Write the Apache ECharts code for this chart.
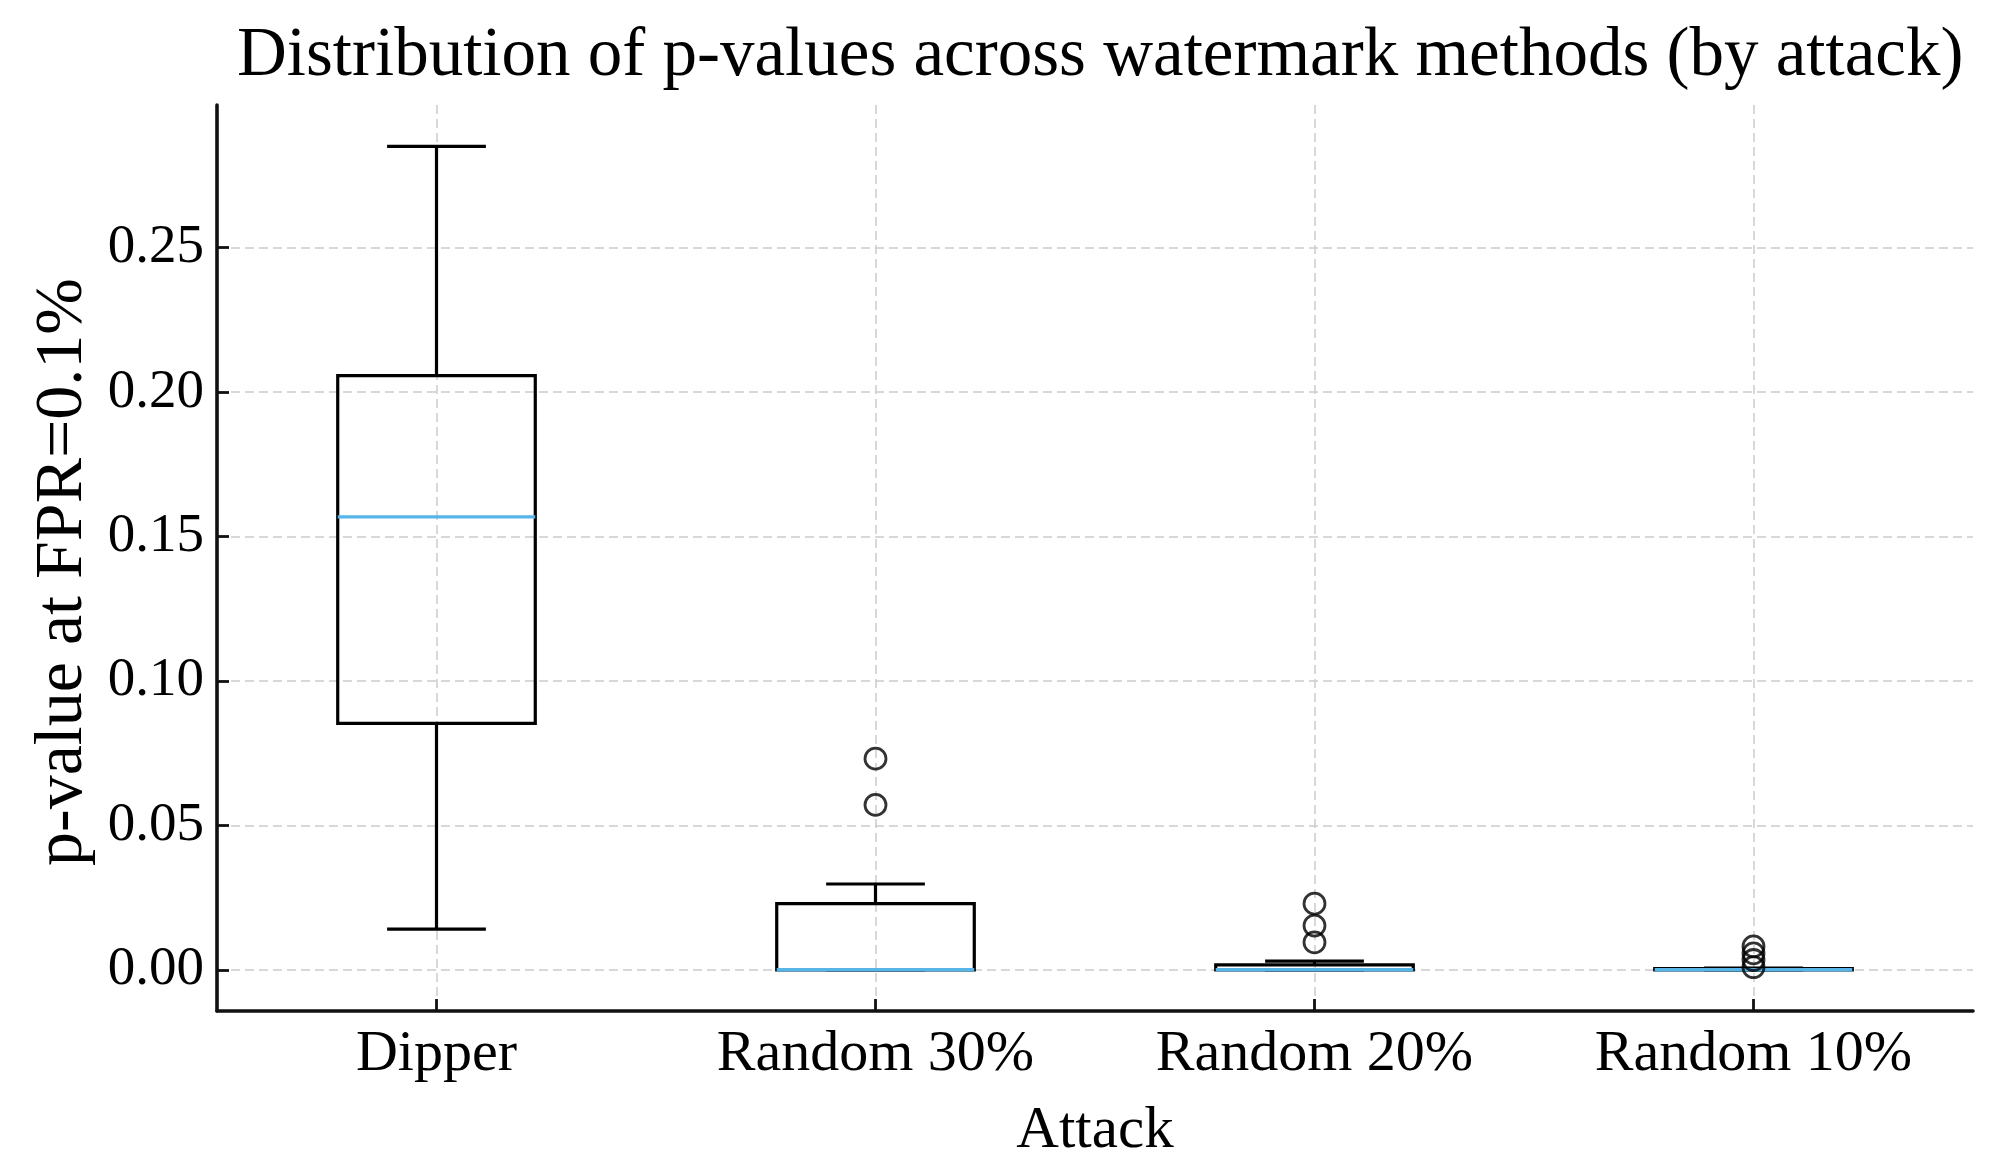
<!DOCTYPE html>
<html>
<head>
<meta charset="utf-8">
<script src="https://cdn.jsdelivr.net/npm/echarts@6/dist/echarts.min.js"></script>
<style>
html,body{margin:0;padding:0;background:#fff;}
#chart{width:1995px;height:1175px;}
</style>
</head>
<body>
<div id="chart"></div>
<script>
// ---- data ----
const categories = ['Dipper', 'Random 30%', 'Random 20%', 'Random 10%'];
const whiskerLow  = [0.0141, 0.0000, 0.0000, 0.0000];
const q1          = [0.0853, 0.0000, 0.0000, 0.0000];
const median      = [0.1568, 0.0000, 0.0000, 0.0000];
const q3          = [0.2057, 0.0229, 0.0017, 0.0004];
const whiskerHigh = [0.2851, 0.0297, 0.0030, 0.0006];
const outliers = [
  [],
  [0.0731, 0.0571],
  [0.0229, 0.0153, 0.0095],
  [0.0081, 0.0057, 0.0034, 0.0009]
];
const yTicks = [0.00, 0.05, 0.10, 0.15, 0.20, 0.25];
const yMin = -0.01426, yMax = 0.2994;

// ---- styles ----
const FONT = '"Liberation Serif", "Times New Roman", serif';
const BOX_FRAC = 0.45;
const LINE_W = 3.2;
const MEDIAN_COLOR = '#56B4E9';
const GRID_STYLE = {color: '#cccccc', width: 1.5, type: [9, 5]};

const boxData = categories.map((c, i) => [i, whiskerLow[i], q1[i], median[i], q3[i], whiskerHigh[i]]);
const outlierData = [];
outliers.forEach((arr, i) => arr.forEach(v => outlierData.push([i, v])));

const chart = echarts.init(document.getElementById('chart'), null, {renderer: 'canvas'});

function renderBox(params, api) {
  const x = api.value(0);
  const lo = api.value(1), b1 = api.value(2), md = api.value(3), b3 = api.value(4), hi = api.value(5);
  const band = api.size([1, 0])[0];
  const half = band * BOX_FRAC / 2;
  const capHalf = half / 2;
  const pLo = api.coord([x, lo]);
  const p1 = api.coord([x, b1]);
  const pm = api.coord([x, md]);
  const p3 = api.coord([x, b3]);
  const pHi = api.coord([x, hi]);
  const cx = pLo[0];
  const black = {stroke: '#000', lineWidth: LINE_W, fill: null};
  return {
    type: 'group',
    children: [
      {type: 'line', shape: {x1: cx, y1: p1[1], x2: cx, y2: pLo[1]}, style: black},
      {type: 'line', shape: {x1: cx - capHalf, y1: pLo[1], x2: cx + capHalf, y2: pLo[1]}, style: black},
      {type: 'line', shape: {x1: cx, y1: p3[1], x2: cx, y2: pHi[1]}, style: black},
      {type: 'line', shape: {x1: cx - capHalf, y1: pHi[1], x2: cx + capHalf, y2: pHi[1]}, style: black},
      {type: 'rect', shape: {x: cx - half, y: p3[1], width: 2 * half, height: p1[1] - p3[1]}, style: {stroke: '#000', lineWidth: LINE_W, fill: 'none'}},
      {type: 'line', shape: {x1: cx - half, y1: pm[1], x2: cx + half, y2: pm[1]}, style: {stroke: MEDIAN_COLOR, lineWidth: 3.4}}
    ]
  };
}

const option = {
  backgroundColor: '#ffffff',
  animation: false,
  title: {
    text: 'Distribution of p-values across watermark methods (by attack)',
    left: 237,
    top: 22,
    padding: 0,
    textStyle: {fontFamily: FONT, fontSize: 69, fontWeight: 'normal', color: '#000'}
  },
  grid: {left: 217, right: 22, top: 105, bottom: 164, containLabel: false},
  xAxis: {
    type: 'category',
    data: categories,
    boundaryGap: true,
    name: 'Attack',
    nameLocation: 'middle',
    nameGap: 91,
    nameTextStyle: {fontFamily: FONT, fontSize: 59, color: '#000'},
    axisLine: {show: true, onZero: false, lineStyle: {color: '#111', width: 3.6}},
    axisTick: {show: true, inside: true, alignWithLabel: true, length: 12, lineStyle: {color: '#111', width: 2.8}},
    axisLabel: {fontFamily: FONT, fontSize: 58, color: '#000', margin: 15},
    splitLine: {show: true, alignWithLabel: true, lineStyle: GRID_STYLE}
  },
  yAxis: {
    type: 'value',
    min: yMin,
    max: yMax,
    name: 'p-value at FPR=0.1%',
    nameLocation: 'middle',
    nameGap: 119,
    nameRotate: 90,
    nameTextStyle: {fontFamily: FONT, fontSize: 68, color: '#000', padding: [0, 28, 0, 0]},
    axisLine: {show: true, onZero: false, lineStyle: {color: '#111', width: 3.6}},
    axisTick: {show: true, inside: true, length: 12, customValues: yTicks, lineStyle: {color: '#111', width: 2.8}},
    axisLabel: {fontFamily: FONT, fontSize: 55, color: '#000', margin: 13, customValues: yTicks,
      formatter: v => Number(v).toFixed(2)},
    splitLine: {show: true, lineStyle: GRID_STYLE}
  },
  series: [
    {
      type: 'custom',
      name: 'box',
      renderItem: renderBox,
      encode: {x: 0, y: [1, 2, 3, 4, 5]},
      data: boxData,
      z: 3
    },
    {
      type: 'scatter',
      name: 'outliers',
      data: outlierData,
      symbol: 'circle',
      symbolSize: 21,
      itemStyle: {color: 'rgba(0,0,0,0)', borderColor: '#000', borderWidth: 2.8},
      z: 4
    }
  ]
};
chart.setOption(option);
</script>
</body>
</html>
